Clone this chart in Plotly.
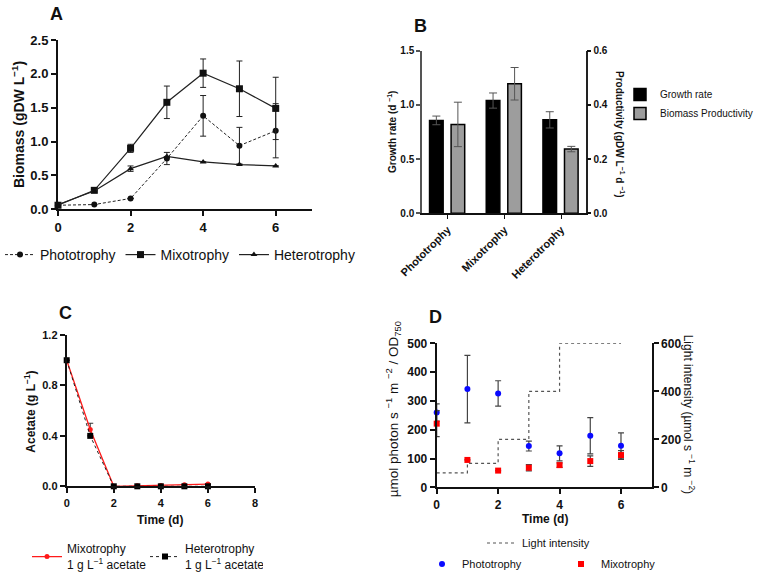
import plotly.graph_objects as go

W, H = 758, 576
FONT = "Arial, Liberation Sans, sans-serif"

# ---------------- Data ----------------
days = [0, 1, 2, 3, 4, 5, 6]
# Panel A: biomass
photo_biomass = [0.06, 0.07, 0.16, 0.75, 1.38, 0.94, 1.16]
photo_biomass_err = [0.0, 0.0, 0.0, 0.09, 0.30, 0.27, 0.40]
mixo_biomass = [0.06, 0.28, 0.90, 1.58, 2.01, 1.78, 1.49]
mixo_biomass_err = [0.0, 0.0, 0.06, 0.24, 0.21, 0.41, 0.46]
hetero_biomass = [0.07, 0.27, 0.60, 0.78, 0.70, 0.66, 0.64]
hetero_biomass_err = [0.0, 0.0, 0.04, 0.0, 0.0, 0.0, 0.0]

# Panel B: growth rate and productivity
conditions = ["Phototrophy", "Mixotrophy", "Heterotrophy"]
growth_rate = [0.857, 1.04, 0.862]
growth_rate_err = [0.04, 0.07, 0.075]
productivity = [0.328, 0.478, 0.237]
productivity_err = [0.082, 0.06, 0.01]

# Panel C: acetate
mixo_acetate = [1.0, 0.45, 0.0, 0.005, 0.006, 0.012, 0.018]
mixo_acetate_err = [0.0, 0.05, 0.0, 0.0, 0.0, 0.0, 0.0]
hetero_acetate = [1.0, 0.40, 0.0, 0.0, 0.0, 0.0, 0.0]

# Panel D: photon per OD and light intensity
photo_photon = [260, 341, 326, 143, 118, 179, 144]
photo_photon_err = [30, 117, 44, 17, 26, 63, 45]
mixo_photon = [221, 95, 58, 68, 77, 91, 112]
mixo_photon_err = [45, 0, 0, 11, 8, 18, 15]
light_days = [0, 1, 2, 3, 4, 6]
light_intensity = [60, 100, 200, 400, 600, 600]


def px(x):
    return x / W


def py(y):
    return 1 - y / H


fig = go.Figure()

# ---------------- Panel A ----------------
errA = dict(type="data", thickness=1, width=3, color="#222")
fig.add_trace(go.Scatter(
    x=days, y=photo_biomass, name="Phototrophy", mode="lines+markers",
    line=dict(color="#222", width=1, dash="3px,2px"),
    marker=dict(symbol="circle", size=6, color="#111"),
    error_y=dict(array=photo_biomass_err, **errA),
    xaxis="x", yaxis="y", legend="legend", cliponaxis=False))
fig.add_trace(go.Scatter(
    x=days, y=mixo_biomass, name="Mixotrophy", mode="lines+markers",
    line=dict(color="#222", width=1.2),
    marker=dict(symbol="square", size=7, color="#111"),
    error_y=dict(array=mixo_biomass_err, **errA),
    xaxis="x", yaxis="y", legend="legend", cliponaxis=False))
fig.add_trace(go.Scatter(
    x=days, y=hetero_biomass, name="Heterotrophy", mode="lines+markers",
    line=dict(color="#222", width=1.2),
    marker=dict(symbol="triangle-up", size=6, color="#111"),
    error_y=dict(array=hetero_biomass_err, **errA),
    xaxis="x", yaxis="y", legend="legend", cliponaxis=False))

# ---------------- Panel B ----------------
errB = dict(type="data", thickness=1, width=4, color="#555")
fig.add_trace(go.Bar(
    x=[0, 1, 2], y=growth_rate, name="Growth rate",
    marker=dict(color="#000", line=dict(color="#000", width=1.5)),
    width=0.24, offset=-0.32,
    error_y=dict(array=growth_rate_err, **errB),
    xaxis="x2", yaxis="y2", legend="legend2"))
fig.add_trace(go.Bar(
    x=[0, 1, 2], y=productivity, name="Biomass Productivity",
    marker=dict(color="#9d9d9d", line=dict(color="#000", width=1.5)),
    width=0.24, offset=0.06,
    error_y=dict(array=productivity_err, **errB),
    xaxis="x2", yaxis="y3", legend="legend2"))

# ---------------- Panel C ----------------
fig.add_trace(go.Scatter(
    x=days, y=mixo_acetate, name="Mixotrophy<br>1 g L<sup>−1</sup> acetate",
    mode="lines+markers",
    line=dict(color="#ff1a1a", width=1.3),
    marker=dict(symbol="circle", size=5, color="#ff1a1a"),
    error_y=dict(type="data", array=mixo_acetate_err, thickness=1, width=3, color="#333"),
    xaxis="x3", yaxis="y4", legend="legend3", cliponaxis=False))
fig.add_trace(go.Scatter(
    x=days, y=hetero_acetate, name="Heterotrophy<br>1 g L<sup>−1</sup> acetate",
    mode="lines+markers",
    line=dict(color="#222", width=1, dash="dot"),
    marker=dict(symbol="square", size=6, color="#000"),
    xaxis="x3", yaxis="y4", legend="legend3", cliponaxis=False))

# ---------------- Panel D ----------------
fig.add_trace(go.Scatter(
    x=light_days, y=light_intensity, name="Light intensity", mode="lines",
    line=dict(color="#555", width=1.2, dash="dot", shape="hv"),
    xaxis="x4", yaxis="y6", legend="legend4"))
errD = dict(type="data", thickness=1.2, width=3, color="#444")
fig.add_trace(go.Scatter(
    x=days, y=photo_photon, name="Phototrophy", mode="markers",
    marker=dict(symbol="circle", size=6, color="#0a0aff"),
    error_y=dict(array=photo_photon_err, **errD),
    xaxis="x4", yaxis="y5", legend="legend5", cliponaxis=False))
fig.add_trace(go.Scatter(
    x=days, y=mixo_photon, name="Mixotrophy", mode="markers",
    marker=dict(symbol="square", size=6, color="#ff0000"),
    error_y=dict(array=mixo_photon_err, **errD),
    xaxis="x4", yaxis="y5", legend="legend5", cliponaxis=False))

bold = dict(family=FONT, color="#111", weight="bold")


def ax(**kw):
    d = dict(showgrid=False, zeroline=False, showline=True, linecolor="#111",
             linewidth=2, ticks="outside", ticklen=5, tickwidth=2, tickcolor="#111",
             automargin=False)
    d.update(kw)
    return d


def leg(**kw):
    d = dict(xref="container", yref="container", xanchor="left", yanchor="middle",
             bgcolor="rgba(0,0,0,0)", itemwidth=30)
    d.update(kw)
    return d


fig.update_layout(
    template="none",
    width=W, height=H,
    margin=dict(l=0, r=0, t=0, b=0, pad=0, autoexpand=False),
    paper_bgcolor="white", plot_bgcolor="white",
    font=dict(family=FONT, color="#111"),
    showlegend=True,
    # Panel A
    xaxis=ax(domain=[px(58), px(312)], range=[0, 7], tickvals=[0, 2, 4, 6],
             anchor="y", tickfont=dict(size=13, **bold)),
    yaxis=ax(domain=[py(209.3), py(40)], range=[0, 2.5], dtick=0.5, tickformat=".1f",
             anchor="x", tickfont=dict(size=13, **bold)),
    # Panel B
    xaxis2=ax(domain=[px(422), px(585.7)], range=[-0.453, 2.434], tickvals=[0, 1, 2],
              ticktext=conditions, tickangle=-45, anchor="y2", linewidth=1.5,
              tickwidth=1, ticklen=4, tickfont=dict(size=11, **bold)),
    yaxis2=ax(domain=[py(213.3), py(50.7)], range=[0, 1.5], dtick=0.5, tickformat=".1f",
              anchor="x2", linewidth=1.5, linecolor="#555", tickwidth=1.5, ticklen=4,
              tickcolor="#555", tickfont=dict(size=10, **bold)),
    yaxis3=ax(range=[0, 0.6], dtick=0.2, tickformat=".1f", overlaying="y2", side="right",
              anchor="x2", linewidth=1.5, linecolor="#222", tickwidth=1.5, ticklen=4,
              tickfont=dict(size=10, **bold)),
    # Panel C
    xaxis3=ax(domain=[px(66.7), px(255)], range=[0, 8], dtick=2, anchor="y4",
              tickfont=dict(size=11, **bold)),
    yaxis4=ax(domain=[py(486.3), py(335)], range=[0, 1.2], dtick=0.4, tickformat=".1f",
              anchor="x3", tickfont=dict(size=11, **bold)),
    # Panel D
    xaxis4=ax(domain=[px(436.7), px(651.7)], range=[0, 7], tickvals=[0, 2, 4, 6],
              anchor="y5", tickfont=dict(size=12, **bold)),
    yaxis5=ax(domain=[py(487.3), py(343.3)], range=[0, 500], dtick=100,
              anchor="x4", tickfont=dict(size=12, **bold)),
    yaxis6=ax(range=[0, 600], dtick=200, overlaying="y5", side="right", anchor="x4",
              tickfont=dict(size=12, **bold)),
    legend=leg(orientation="h", x=px(-21), y=py(255), font=dict(size=14, family=FONT)),
    legend2=leg(orientation="v", x=px(620), y=py(104), font=dict(size=10, family=FONT)),
    legend3=leg(orientation="h", x=px(27), y=py(557), font=dict(size=12, family=FONT),
                entrywidth=73),
    legend4=leg(orientation="h", x=px(482), y=py(543), font=dict(size=11, family=FONT)),
    legend5=leg(orientation="h", x=px(422), y=py(564), font=dict(size=11, family=FONT),
                entrywidth=94),
)

annotations = [
    # panel letters
    dict(text="<b>A</b>", x=px(56), y=py(14), font=dict(size=18)),
    dict(text="<b>B</b>", x=px(420), y=py(26), font=dict(size=18)),
    dict(text="<b>C</b>", x=px(65), y=py(313), font=dict(size=18)),
    dict(text="<b>D</b>", x=px(435), y=py(317), font=dict(size=18)),
    # axis titles
    dict(text="<b>Biomass (gDW L<sup>−1</sup>)</b>", x=px(18), y=py(125), textangle=-90,
         font=dict(size=14)),
    dict(text="<b>Growth rate (d <sup>−1</sup>)</b>", x=px(392), y=py(132), textangle=-90,
         font=dict(size=10)),
    dict(text="<b>Productivity (gDW L<sup>−1</sup> d <sup>−1</sup>)</b>", x=px(620), y=py(134),
         textangle=90, font=dict(size=10)),
    dict(text="<b>Acetate (g L<sup>−1</sup>)</b>", x=px(30), y=py(411.7), textangle=-90,
         font=dict(size=12)),
    dict(text="<b>Time (d)</b>", x=px(160), y=py(520), font=dict(size=12)),
    dict(text="µmol photon s <sup>−1</sup> m <sup>−2</sup> / OD<sub>750</sub>", x=px(393.3),
         y=py(409), textangle=-90, font=dict(size=13.5)),
    dict(text="Light intensity (µmol s <sup>−1</sup> m <sup>−2</sup>)", x=px(689.3), y=py(414),
         textangle=90, font=dict(size=12)),
    dict(text="<b>Time (d)</b>", x=px(545), y=py(519), font=dict(size=12)),
]
for a in annotations:
    a.update(xref="paper", yref="paper", showarrow=False, xanchor="center", yanchor="middle")
    a["font"] = dict(family=FONT, color="#111", **a["font"])
fig.update_layout(annotations=annotations)

fig.write_html("out.html", config={"displayModeBar": False},
               post_script="document.body.style.margin='0px';")
